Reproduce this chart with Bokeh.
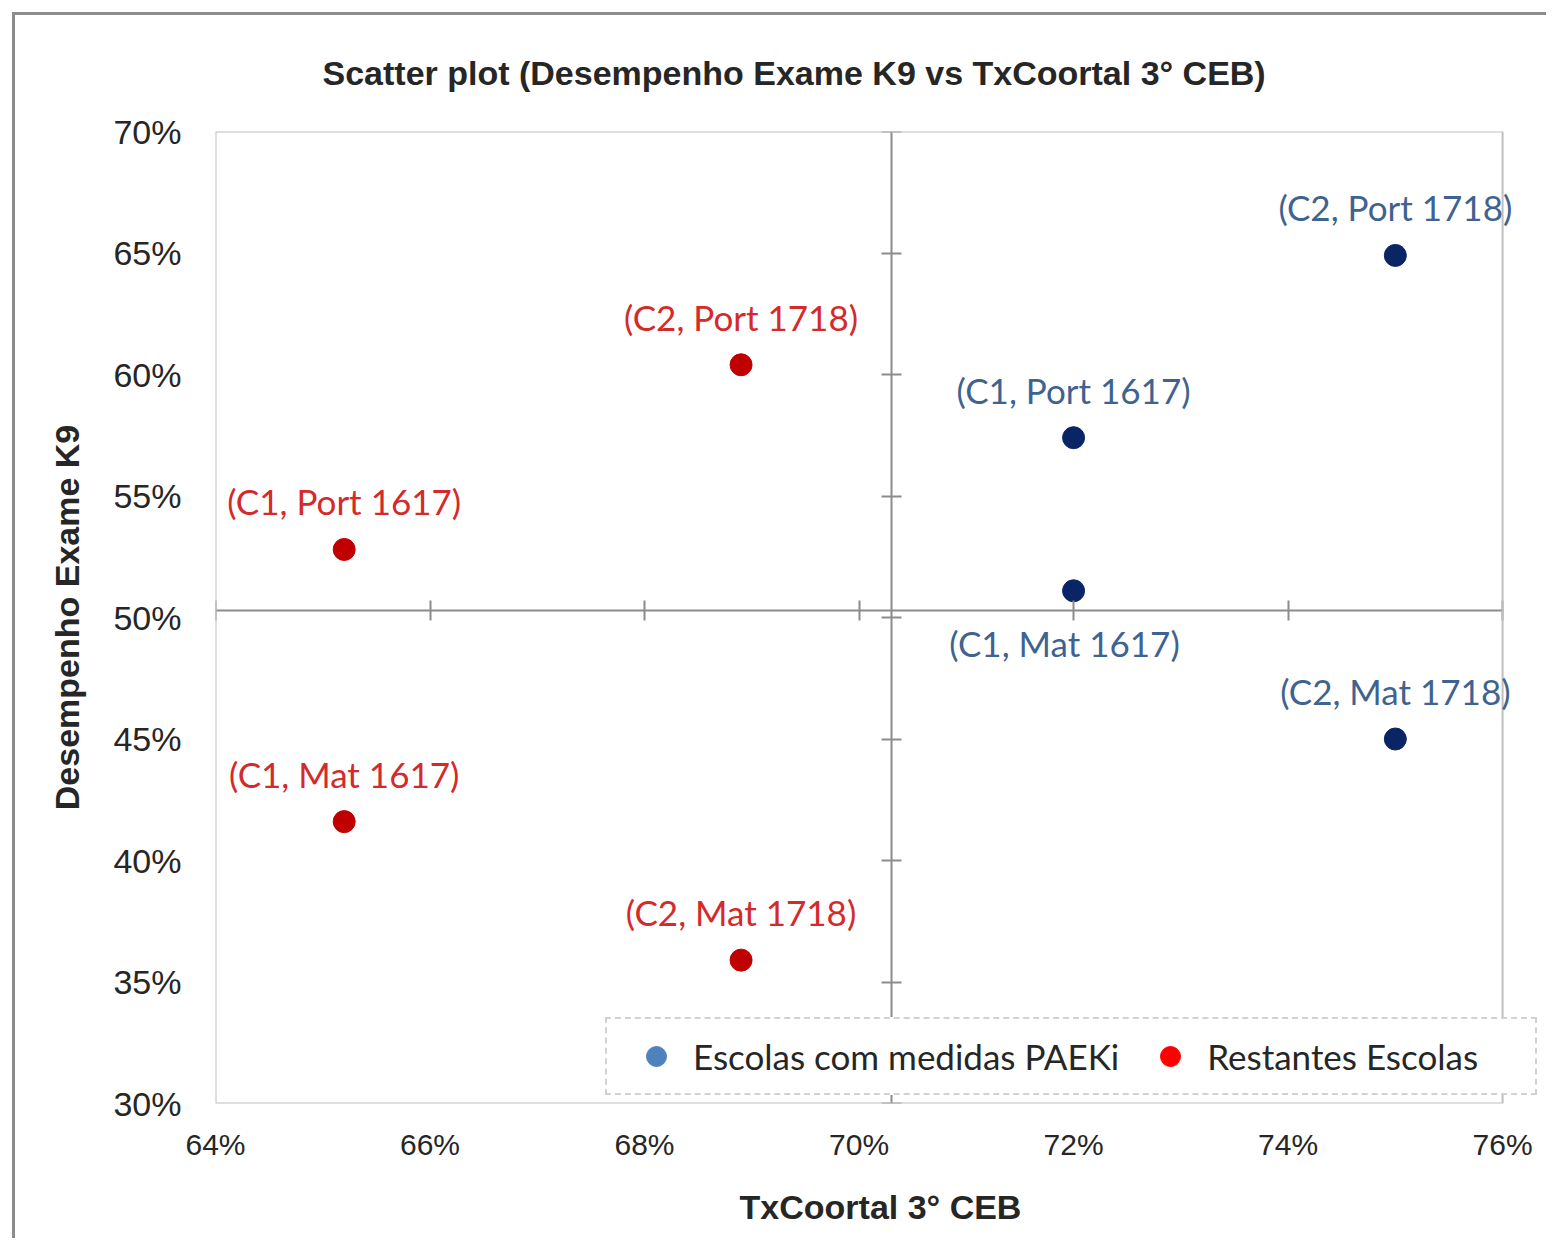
from bokeh.plotting import figure
from bokeh.models import (Range1d, FixedTicker, PrintfTickFormatter, LinearAxis, BoxAnnotation,
                          CustomJSTickFormatter, Legend, LegendItem, ColumnDataSource, Label)
from bokeh.embed import file_html
from bokeh.resources import INLINE

# ---------------- data ----------------
title_text = "Scatter plot (Desempenho Exame K9 vs TxCoortal 3° CEB)"
x_title = "TxCoortal 3° CEB"
y_title = "Desempenho Exame K9"

series_names = ["Escolas com medidas PAEKi", "Restantes Escolas"]

paeki_labels = ["(C1, Port 1617)", "(C1, Mat 1617)", "(C2, Port 1718)", "(C2, Mat 1718)"]
paeki_x = [72.0, 72.0, 75.0, 75.0]
paeki_y = [57.4, 51.1, 64.9, 45.0]
paeki_place = ["above", "below", "above", "above"]

rest_labels = ["(C1, Port 1617)", "(C1, Mat 1617)", "(C2, Port 1718)", "(C2, Mat 1718)"]
rest_x = [65.2, 65.2, 68.9, 68.9]
rest_y = [52.8, 41.6, 60.4, 35.9]
rest_place = ["above", "above", "above", "above"]

x_ticks = [64, 66, 68, 70, 72, 74, 76]
y_ticks = [30, 35, 40, 45, 50, 55, 60, 65, 70]
x_cross = 70.3
y_cross = 50.3

# ---------------- styles ----------------
OFFSETS = {"above": (0, 48), "below": (-9, -52)}
W, H = 1534, 1226
X_PAD = 0.4          # extra room right of the plot area for labels / legend overflow
AX_GRAY = "#8C8C8C"
TXT = "#262626"

p = figure(width=W, height=H,
           x_range=Range1d(x_ticks[0], x_ticks[-1] + X_PAD),
           y_range=Range1d(y_ticks[0], y_ticks[-1]),
           output_backend="svg", toolbar_location=None,
           min_border_left=200, min_border_right=4, min_border_top=116, min_border_bottom=138)
p.styles = {"margin-left": "12px", "margin-top": "12px",
            "border-left": "3px solid #8C8C8C", "border-top": "3px solid #8C8C8C"}
p.background_fill_color = "white"
p.border_fill_color = "white"
p.outline_line_color = None
p.xgrid.visible = False
p.ygrid.visible = False

# title
p.title.text = title_text
p.title.text_font = "Liberation Sans"
p.title.text_font_style = "bold"
p.title.text_font_size = "34px"
p.title.text_color = TXT
p.title.align = "left"
p.title.vertical_align = "top"
p.title.offset = 107
p.title.standoff = 76

# main axes (labels only)
xa = p.xaxis[0]
ya = p.yaxis[0]
xa.ticker = FixedTicker(ticks=x_ticks)
ya.ticker = FixedTicker(ticks=y_ticks)
xa.formatter = PrintfTickFormatter(format="%d%%")
ya.formatter = PrintfTickFormatter(format="%d%%")
for ax in (xa, ya):
    ax.axis_line_color = None
    ax.major_tick_line_color = None
    ax.minor_tick_line_color = None
    ax.major_tick_out = 0
    ax.major_tick_in = 0
    ax.major_label_text_font = "Liberation Sans"
    ax.major_label_text_color = TXT
    ax.axis_label_text_font = "Liberation Sans"
    ax.axis_label_text_font_style = "bold"
    ax.axis_label_text_font_size = "34px"
    ax.axis_label_text_color = TXT
xa.major_label_text_font_size = "30px"
ya.major_label_text_font_size = "34px"
xa.major_label_standoff = 24
ya.major_label_standoff = 34
xa.axis_label = x_title
ya.axis_label = y_title
xa.axis_label_standoff = 24
ya.axis_label_standoff = 24

# plot-area border
p.add_layout(BoxAnnotation(left=x_ticks[0], right=x_ticks[-1], bottom=y_ticks[0], top=y_ticks[-1],
                           fill_color=None, fill_alpha=0, line_color="#BFBFBF",
                           line_alpha=1, line_width=2))

# crossing axes
blank = CustomJSTickFormatter(code="return ''")
vx = LinearAxis(fixed_location=x_cross, ticker=FixedTicker(ticks=y_ticks), formatter=blank,
                axis_line_color=AX_GRAY, axis_line_width=2,
                major_tick_in=10, major_tick_out=10, major_tick_line_color=AX_GRAY,
                major_tick_line_width=2, minor_tick_line_color=None, major_label_standoff=0)
hx = LinearAxis(fixed_location=y_cross, ticker=FixedTicker(ticks=x_ticks), formatter=blank,
                bounds=(x_ticks[0], x_ticks[-1]),
                axis_line_color=AX_GRAY, axis_line_width=2,
                major_tick_in=10, major_tick_out=10, major_tick_line_color=AX_GRAY,
                major_tick_line_width=2, minor_tick_line_color=None, major_label_standoff=0)
p.add_layout(vx, "left")
p.add_layout(hx, "below")

src_a = ColumnDataSource(dict(x=paeki_x, y=paeki_y, label=paeki_labels))
src_b = ColumnDataSource(dict(x=rest_x, y=rest_y, label=rest_labels))

# legend-key renderers (legend colours), hidden beneath the plotted points
la = p.scatter("x", "y", source=src_a, size=18, fill_color="#4F81BD", line_color="#4F81BD")
lb = p.scatter("x", "y", source=src_b, size=18, fill_color="#FF0000", line_color="#FF0000")

p.scatter("x", "y", source=src_a, size=22, fill_color="#0A2566", line_color="#0A2566")
p.scatter("x", "y", source=src_b, size=22, fill_color="#C00000", line_color="#C00000")

# data labels
for xs, ys, labels, places, col in ((paeki_x, paeki_y, paeki_labels, paeki_place, "#3F6390"),
                                    (rest_x, rest_y, rest_labels, rest_place, "#D42A2A")):
    for xv, yv, txt, pl in zip(xs, ys, labels, places):
        dx, dy = OFFSETS[pl]
        p.add_layout(Label(x=xv, y=yv, text=txt, x_offset=dx, y_offset=dy,
                           text_align="center", text_baseline="middle",
                           text_font="Lato", text_font_size="35px", text_color=col))

legend = Legend(items=[LegendItem(label=series_names[0], renderers=[la]),
                       LegendItem(label=series_names[1], renderers=[lb])],
                orientation="horizontal", location=(390, 8),
                glyph_width=74, glyph_height=50, label_standoff=0, spacing=14,
                padding=12, margin=0, label_width=316,
                label_text_font="Lato", label_text_font_size="35px", label_text_color=TXT,
                border_line_color="#A6A6A6", border_line_width=2, border_line_dash="3 2",
                background_fill_color="white", background_fill_alpha=1)
p.add_layout(legend, "center")

open("out.html", "w").write(file_html(p, INLINE))
